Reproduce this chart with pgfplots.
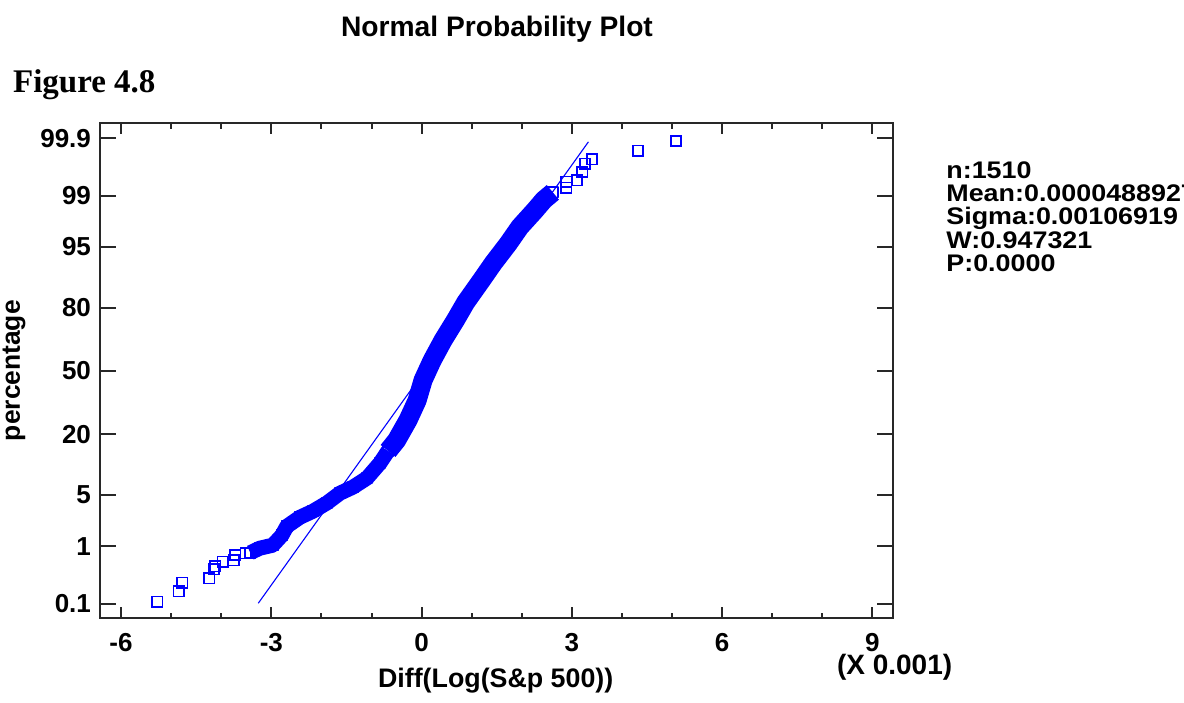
\documentclass[border=0pt]{standalone}
\usepackage{fontspec}
\setmainfont{Liberation Sans}
\newfontfamily\figfont{Liberation Serif}
\newfontfamily\statfont[FakeStretch=1.12]{Liberation Sans}
\usepackage{pgfplots}
\pgfplotsset{compat=1.18}
\definecolor{ptblue}{RGB}{0,0,255}
\definecolor{axgray}{RGB}{40,40,40}
\begin{document}
\begin{tikzpicture}
\useasboundingbox (0pt,0pt) rectangle (592pt,351pt);
\clip (0pt,0pt) rectangle (592pt,351pt);
% ---------- data axis (with y ticks) ----------
\begin{axis}[
  at={(50pt,41.85pt)}, anchor=south west,
  scale only axis, width=396.5pt, height=247.65pt,
  xmin=-6.42, xmax=9.41, ymin=-3.28, ymax=3.29,
  axis line style={axgray, line width=1pt},
  xtick=\empty,
  ytick={-3.0902,-2.3263,-1.6449,-0.8416,0,0.8416,1.6449,2.3263,3.0902},
  yticklabels={0.1,1,5,20,50,80,95,99,99.9},
  major tick length=8pt,
  every tick/.style={axgray, line width=1pt},
  yticklabel style={font=\fontsize{13}{13}\selectfont\bfseries, xshift=-1pt},
  ylabel={percentage},
  ylabel style={at={(axis description cs:-0.1085,0.5)}, anchor=center, font=\fontsize{13.2}{13}\selectfont\bfseries},
  every axis title shift=0pt,
  title={Normal Probability Plot},
  title style={at={(axis description cs:0.5006,1.174)}, anchor=base, yshift=0pt, font=\fontsize{14.1}{14}\selectfont\bfseries},
]
% fitted normal line (drawn beneath the points)
\addplot[ptblue, line width=0.55pt] coordinates {(-3.26,-3.08) (3.33,3.04)};
% lower tail band
\addplot[ptblue, line width=7.5pt, line join=round, line cap=butt,
  mark=square, mark size=2.6pt, mark options={line width=0.8pt, solid}]
coordinates {
(-3.42,-2.41) (-3.23,-2.35) (-2.97,-2.31) (-2.79,-2.18) (-2.69,-2.06)
(-2.43,-1.94) (-2.17,-1.86) (-1.89,-1.75) (-1.63,-1.62) (-1.37,-1.54)
(-1.09,-1.42) (-0.83,-1.22) (-0.67,-1.06)
};
% middle and upper band
\addplot[ptblue, line width=9.5pt, line join=round, line cap=butt,
  mark=square, mark size=2.6pt, mark options={line width=0.8pt, solid}]
coordinates {
(-0.67,-1.06) (-0.50,-0.92) (-0.27,-0.65) (-0.09,-0.39) (0.03,-0.12)
(0.21,0.14) (0.43,0.41) (0.68,0.68) (0.88,0.91) (1.20,1.21)
(1.43,1.43) (1.73,1.69) (1.96,1.91) (2.26,2.13) (2.44,2.27) (2.62,2.37)
};
% isolated points in the tails
\addplot[ptblue, only marks, mark=square, mark size=2.6pt, mark options={line width=0.8pt}]
coordinates {
(-5.28,-3.06) (-4.85,-2.92) (-4.78,-2.81) (-4.24,-2.75) (-4.15,-2.63)
(-4.12,-2.59) (-3.97,-2.53) (-3.75,-2.51) (-3.72,-2.44) (-3.51,-2.42)
(2.89,2.43) (2.89,2.51) (3.10,2.53) (3.21,2.64) (3.26,2.75)
(3.40,2.81) (4.32,2.92) (5.08,3.05)
};
\end{axis}
% ---------- x tick axis ----------
\begin{axis}[
  at={(50pt,41.85pt)}, anchor=south west,
  scale only axis, width=396.5pt, height=247.65pt,
  xmin=-6.42, xmax=9.41, ymin=-3.28, ymax=3.29,
  axis line style={axgray, line width=1pt},
  ytick=\empty,
  xtick={-6,-3,0,3,6,9},
  xticklabels={-6,-3,0,3,6,9},
  minor xtick={-5,-4,-2,-1,1,2,4,5,7,8},
  major tick length=5.7pt, minor tick length=2.8pt,
  every tick/.style={axgray, line width=1pt},
  xticklabel style={font=\fontsize{13}{13}\selectfont\bfseries, yshift=-4pt},
  xlabel={Diff(Log(S\&p 500))},
  xlabel style={at={(axis description cs:0.499,-0.140)}, anchor=base, font=\fontsize{13.4}{13}\selectfont\bfseries},
]
\end{axis}
% ---------- free texts ----------
\node[anchor=base west, inner sep=0pt] at (418.3pt,13.8pt) {\fontsize{14}{14}\selectfont\bfseries (X 0.001)};
\node[anchor=base west, inner sep=0pt] at (6.35pt,304.5pt) {\figfont\fontsize{16.5}{16.5}\selectfont\bfseries Figure 4.8};
\begin{scope}[every node/.style={anchor=base west, inner sep=0pt, font=\statfont\fontsize{12}{12}\selectfont\bfseries}]
\node at (473pt,261.85pt) {n:1510};
\node at (473pt,250.15pt) {Mean:0.0000488927};
\node at (473pt,238.5pt) {Sigma:0.00106919};
\node at (473pt,226.85pt) {W:0.947321};
\node at (473pt,215.15pt) {P:0.0000};
\end{scope}
\end{tikzpicture}
\end{document}
